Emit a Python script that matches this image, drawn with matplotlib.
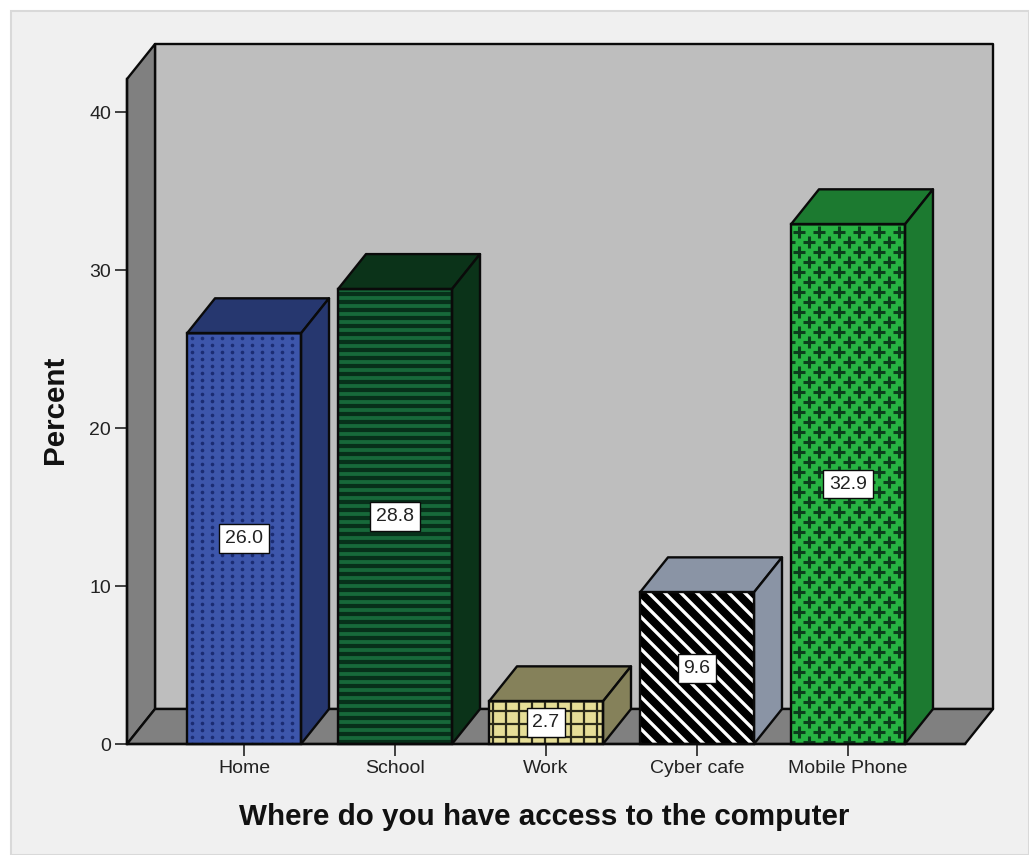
import numpy as np
import matplotlib
matplotlib.use('Agg')
import matplotlib.pyplot as plt
from matplotlib.patches import Polygon, Rectangle

plt.rcParams['font.family'] = ['Liberation Sans', 'DejaVu Sans']

categories = ['Home', 'School', 'Work', 'Cyber cafe', 'Mobile Phone']
percent = [26.0, 28.8, 2.7, 9.6, 32.9]
labels = ['26.0', '28.8', '2.7', '9.6', '32.9']
y_ticks = [0, 10, 20, 30, 40]

front_colors = ['#3d56ab', '#17693a', '#e6de97', '#000000', '#27b342']
side_colors = ['#26376f', '#0b3319', '#85815a', '#8a94a5', '#1c7a30']

W, H = 1029, 855
EDGE = '#0a0a0a'
LW = 1.7

fig = plt.figure(figsize=(W / 100, H / 100), dpi=100, facecolor='white')
fig.patches.append(Rectangle((11 / W, 0), 1 - 11 / W, 1 - 11 / H, transform=fig.transFigure,
                             facecolor='#f0f0f0', edgecolor='#d9d9d9', linewidth=1.5, zorder=-1))

# передняя плоскость графика, пиксели взяты с картинки
ax = fig.add_axes([127 / W, 1 - 744 / H, (965 - 127) / W, (744 - 79) / H])
ax.patch.set_visible(False)
ax.set_xlim(-0.775, 4.775)
ax.set_ylim(0, 42.1)

# сколько единиц данных в одном пикселе
px = 5.55 / 838
py = 42.1 / 665
dx = 28 * px
dy = 35 * py
bar_w = 114 * px
x0, x1 = ax.get_xlim()
y0, y1 = ax.get_ylim()


def poly(points, color, z):
    ax.add_patch(Polygon(points, closed=True, facecolor=color, edgecolor=EDGE,
                         linewidth=LW, clip_on=False, zorder=z, joinstyle='round'))


# стенки и пол
poly([(x0 + dx, y0 + dy), (x1 + dx, y0 + dy), (x1 + dx, y1 + dy), (x0 + dx, y1 + dy)], '#bebebe', 1)
poly([(x0, y0), (x0 + dx, y0 + dy), (x0 + dx, y1 + dy), (x0, y1)], '#808080', 1.1)
poly([(x0, y0), (x1, y0), (x1 + dx, y0 + dy), (x0 + dx, y0 + dy)], '#808080', 1.1)

xs = np.arange(len(categories))
bars = ax.bar(xs, percent, width=bar_w, color=front_colors, edgecolor='none', zorder=3)


def dots(bar):
    l, b, w, h = bar.get_x(), bar.get_y(), bar.get_width(), bar.get_height()
    gx, gy = np.meshgrid(np.arange(l + 5 * px, l + w, 10 * px), np.arange(b, b + h, 7 * py))
    return ax.plot(gx.ravel(), gy.ravel(), ls='none', marker='o', ms=2.6, mew=0, color='#1b2c72', zorder=4)


def stripes(bar):
    l, b, w, h = bar.get_x(), bar.get_y(), bar.get_width(), bar.get_height()
    return [ax.hlines(np.arange(b + 2 * py, b + h, 8 * py), l, l + w, color='#07301a', lw=3, zorder=4)]


def grid(bar):
    l, b, w, h = bar.get_x(), bar.get_y(), bar.get_width(), bar.get_height()
    return [ax.hlines(np.arange(b + 7 * py, b + h, 13 * py), l, l + w, color='#2b2a18', lw=1.6, zorder=4),
            ax.vlines(np.arange(l + 4 * px, l + w, 13 * px), b, b + h, color='#2b2a18', lw=1.6, zorder=4)]


def diagonal(bar):
    l, b, w, h = bar.get_x(), bar.get_y(), bar.get_width(), bar.get_height()
    h_px = h / py
    out = []
    for off in np.arange(-h_px, w / px, 16):
        out += ax.plot([l + off * px, l + (off + h_px) * px], [b + h, b], color='white', lw=2.4, zorder=4)
    return out


def plus(bar):
    l, b, w, h = bar.get_x(), bar.get_y(), bar.get_width(), bar.get_height()
    out = []
    for i, yy in enumerate(np.arange(b + h - 8 * py, b, -10 * py)):
        gx = np.arange(l + (8 if i % 2 == 0 else 18) * px - 20 * px, l + w + 10 * px, 20 * px)
        out += ax.plot(gx, np.full(len(gx), yy), ls='none', marker='+', ms=8, mew=2.2,
                       color='#0c3d1c', zorder=4)
    return out


patterns = [dots, stripes, grid, diagonal, plus]

for i, bar in enumerate(bars):
    l, w, v = bar.get_x(), bar.get_width(), bar.get_height()
    for art in patterns[i](bar):
        art.set_clip_path(bar)
    # верх и бок столбика
    poly([(l, v), (l + w, v), (l + w + dx, v + dy), (l + dx, v + dy)], side_colors[i], 3.1)
    poly([(l + w, 0), (l + w + dx, dy), (l + w + dx, v + dy), (l + w, v)], side_colors[i], 3.1)
    ax.add_patch(Rectangle((l, 0), w, v, facecolor='none', edgecolor=EDGE, linewidth=LW, zorder=5, clip_on=False))
    ax.text(xs[i], v / 2, labels[i], ha='center', va='center', fontsize=14, color='#222222', zorder=6,
            bbox=dict(boxstyle='square,pad=0.3', facecolor='white', edgecolor=EDGE, linewidth=1))

for s in ['top', 'right']:
    ax.spines[s].set_visible(False)
for s in ['left', 'bottom']:
    ax.spines[s].set_linewidth(LW)
    ax.spines[s].set_color(EDGE)
    ax.spines[s].set_zorder(7)

ax.set_xticks(xs)
ax.set_xticklabels(categories)
ax.set_yticks(y_ticks)
ax.tick_params(axis='both', length=8.5, width=1.2, color='#222222', labelsize=14, labelcolor='#222222', pad=3)

fig.text(544 / W, 1 - 817 / H, 'Where do you have access to the computer', ha='center', va='center',
         fontsize=21.3, fontweight='bold', color='#111111')
fig.text(55 / W, 1 - 410 / H, 'Percent', ha='center', va='center', rotation=90,
         fontsize=21.3, fontweight='bold', color='#111111')

fig.savefig('out.png', dpi=100)
